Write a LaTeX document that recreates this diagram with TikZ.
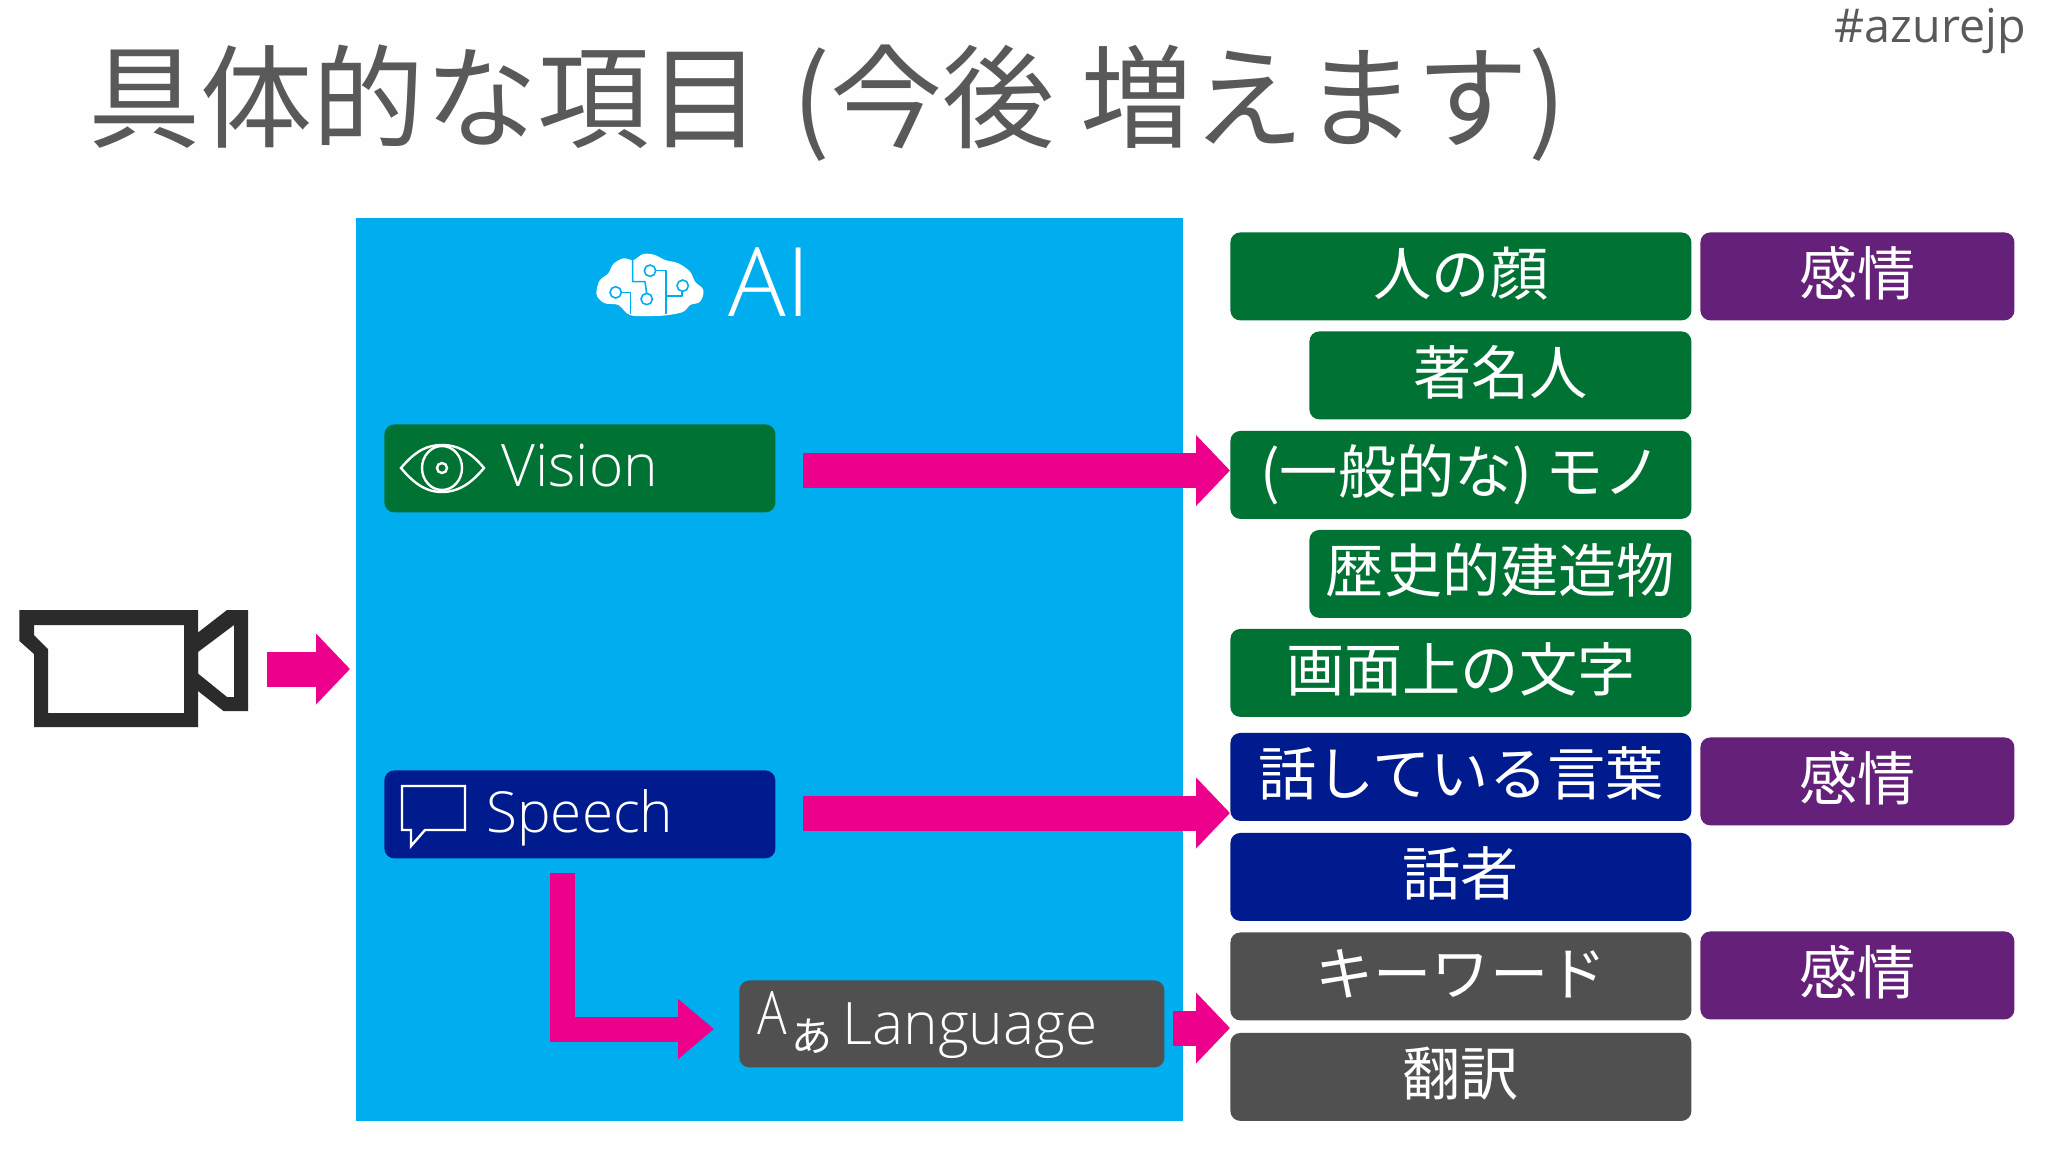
\documentclass[tikz,border=0pt]{standalone}
\usepackage{fontspec}
\usetikzlibrary{arrows.meta,calc}
\setmainfont{Open Sans Light}
\newfontfamily\jp{Noto Sans CJK JP}
\newfontfamily\lat{Open Sans}
\definecolor{bgw}{HTML}{FEFEFE}
\definecolor{azure}{HTML}{00ADEF}
\definecolor{grn}{HTML}{007233}
\definecolor{nav}{HTML}{001B8E}
\definecolor{gry}{HTML}{505050}
\definecolor{pur}{HTML}{652079}
\definecolor{pnk}{HTML}{EC008C}
\definecolor{ttl}{HTML}{595959}
\definecolor{cam}{HTML}{2B2B2B}
\tikzset{
  x=0.5pt,y=-0.5pt,
  boxbase/.style={rounded corners=5pt,inner sep=0pt,text=white,font=\jp\fontsize{29.1}{30}\selectfont,anchor=north west,text height=24pt,text depth=5pt},
  grnbox/.style={boxbase,fill=grn},
  navbox/.style={boxbase,fill=nav},
  grybox/.style={boxbase,fill=gry},
  purbox/.style={boxbase,fill=pur,minimum width=157pt,minimum height=44pt},
  wide/.style={minimum width=230.5pt,minimum height=44pt},
  narrow/.style={minimum width=191pt,minimum height=44pt},
  svc/.style={rounded corners=5pt,inner sep=0pt,anchor=north west},
  svclabel/.style={text=white,inner sep=0pt,anchor=base west},
  blockarrow/.style={draw=pnk,line width=17.5pt,-{Triangle[length=17pt,width=34.5pt,color=pnk]}},
  bentarrow/.style={draw=pnk,line width=12.5pt,-{Triangle[length=18pt,width=29pt,color=pnk]}},
  icon/.style={draw=white,line width=1.2pt},
}
\begin{document}
\begin{tikzpicture}
\useasboundingbox (0,0) rectangle (2048,1152);
\fill[bgw] (0,0) rectangle (2048,1152);
\node[anchor=base west,inner sep=0pt,text=ttl,font=\jp\fontsize{56.1}{60}\selectfont] (title) at (88,139) {具体的な項目\hspace{3pt} (今後 増えます)};
\node[anchor=base east,inner sep=0pt,text=ttl,font=\lat\fontsize{23.3}{25}\selectfont] (tag) at (2026,42) {\#azurejp};
\node[anchor=north west,fill=azure,inner sep=0pt,minimum width=413.5pt,minimum height=451.5pt] (ai) at (356,218) {};
\node[anchor=base west,inner sep=0pt,text=white,font=\fontsize{48}{50}\selectfont] (ailabel) at (728,316) {AI};
% brain
\begin{scope}[shift={(580,240)},x=0.1667pt,y=-0.1667pt]
\fill[white] plot[smooth cycle,tension=0.6] coordinates {(50,150) (60,120) (85,100) (100,72) (130,55) (160,60) (190,42) (225,45) (255,60) (295,70) (330,95) (345,125) (370,150) (360,185) (330,195) (310,215) (265,225) (215,228) (150,225) (115,195) (75,190) (52,170)};
\draw[azure,line width=0.8pt,line join=round] (124,157) -- (152,157) -- (152,222);
\draw[azure,line width=0.8pt,line join=round] (158,52) -- (158,125) -- (195,125) -- (200,160);
\draw[azure,line width=0.8pt,line join=round] (227,92) -- (258,92) -- (258,222);
\draw[azure,line width=0.8pt,line join=round] (305,154) -- (305,168) -- (258,168);
\draw[azure,line width=0.8pt,fill=white] (107,157) circle[radius=17] (200,177) circle[radius=17] (210,92) circle[radius=17] (308,137) circle[radius=17];
\end{scope}
% camera
\fill[cam,even odd rule] (19.4,610) -- (198,610) -- (198,727) -- (34,727) -- (34,654) -- (19.4,641) -- cycle
  (34,625) -- (184,625) -- (184,713) -- (48,713) -- (48,649) -- (34,635) -- cycle;
\fill[cam,even odd rule] (198,632.5) -- (227,610) -- (248,610) -- (248,711) -- (223.5,711) -- (198,691) -- cycle
  (198,652) -- (234,625) -- (234,697) -- (227,697) -- (198,673.5) -- cycle;
% service boxes
\node[svc,fill=grn,minimum width=195.5pt,minimum height=44pt] (vision) at (384,424) {};
\node[svc,fill=nav,minimum width=195.5pt,minimum height=44pt] (speech) at (384,770) {};
\node[svc,fill=gry,minimum width=212.5pt,minimum height=43.5pt] (language) at (739,980) {};
\node[svclabel,font=\fontsize{29.3}{30}\selectfont] (visiontext) at (501,486.5) {Vision};
\node[svclabel,font=\fontsize{28.3}{30}\selectfont] (speechtext) at (486,832.5) {Speech};
\node[svclabel,font=\fontsize{29.3}{30}\selectfont] (languagetext) at (842,1044) {Language};
% eye
\draw[icon] (401,468) .. controls (416,450) and (428,445) .. (442,445) .. controls (456,445) and (469,450) .. (484,468) .. controls (469,486) and (456,492) .. (442,492) .. controls (428,492) and (416,486) .. (401,468) -- cycle;
\draw[icon] (442,468) ellipse[x radius=20,y radius=22];
\draw[icon] (442,468) circle[radius=5];
% bubble
\draw[icon,line join=miter] (402,786) -- (465,786) -- (465,830) -- (425,830) -- (411,846) -- (411,830) -- (402,830) -- cycle;
% A-a
\node[anchor=base west,inner sep=0pt,text=white,font=\fontsize{30}{32}\selectfont,xscale=0.82] (la) at (757,1034) {A};
\node[anchor=base west,inner sep=0pt,text=white,font=\jp\fontsize{20.5}{22}\selectfont] (lb) at (791,1051) {あ};
% right column
\node[grnbox,wide] (face) at (1230,232) {人の顔};
\node[grnbox,narrow] (celeb) at (1309,331) {著名人};
\node[grnbox,wide] (obj) at (1230,430.5) {(一般的な) モノ};
\node[grnbox,narrow] (hist) at (1309,529.5) {歴史的建造物};
\node[grnbox,wide] (ocr) at (1230,628.5) {画面上の文字};
\node[navbox,wide] (words) at (1230,732.5) {話している言葉};
\node[navbox,wide] (spk) at (1230,832.5) {話者};
\node[grybox,wide] (kw) at (1230,932) {キーワード};
\node[grybox,wide] (trans) at (1230,1032.5) {翻訳};
\node[purbox] (em1) at (1700,232) {感情};
\node[purbox] (em2) at (1700,737) {感情};
\node[purbox] (em3) at (1700,931) {感情};
% arrows
\coordinate (camout) at (267,669);
\coordinate (vout) at (803,470.5);
\coordinate (sout) at (803,813);
\coordinate (sdown) at (562.5,873);
\coordinate (sbend) at (562.5,1029);
\coordinate (lout) at (1173,1028);
\draw[blockarrow] (camout) -- ([xshift=-3pt]ai.west |- camout);
\draw[blockarrow] (vout) -- (obj.west |- vout);
\draw[blockarrow] (sout) -- (words.west |- sout);
\draw[bentarrow] (sdown) -- (sbend) -- ([xshift=-12.5pt]language.west |- sbend);
\draw[blockarrow] (lout) -- (trans.west |- lout);
\end{tikzpicture}
\end{document}
